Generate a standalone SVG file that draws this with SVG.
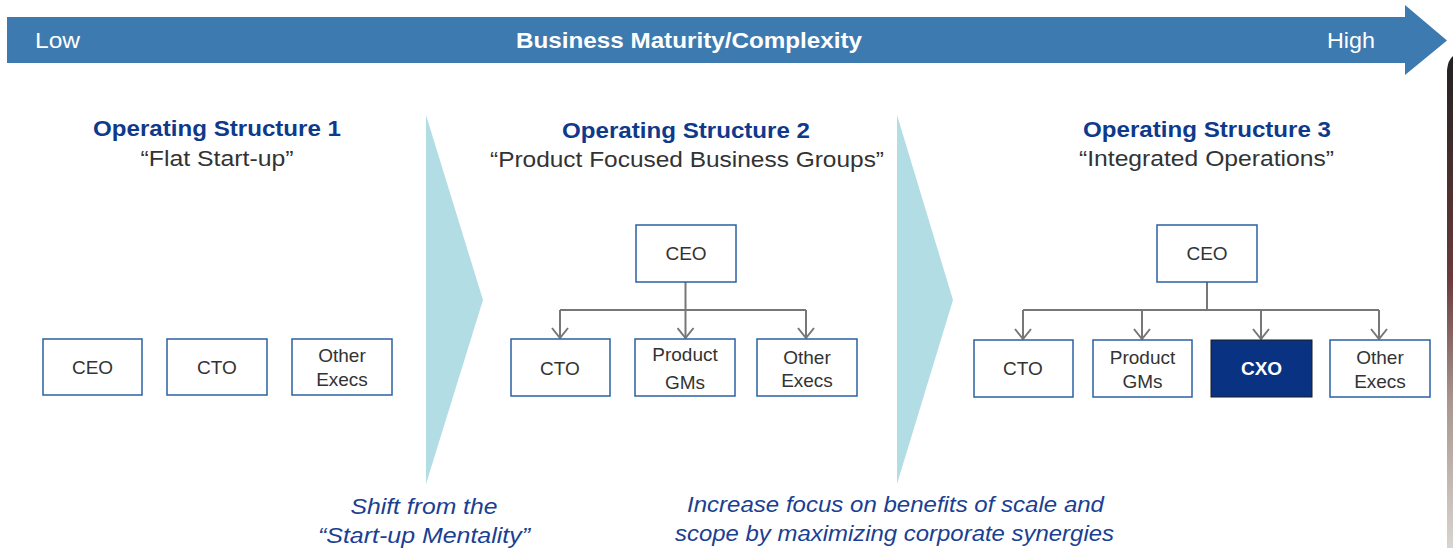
<svg xmlns="http://www.w3.org/2000/svg" width="1453" height="548" viewBox="0 0 1453 548">
<defs>
<style>
.box{fill:#fff;stroke:#2b60a3;stroke-width:1.5}
.bt{font-family:"Liberation Sans",Arial,sans-serif;font-size:19px;fill:#333;text-anchor:middle}
.title{font-family:"Liberation Sans",Arial,sans-serif;font-size:22px;font-weight:bold;fill:#0f3a8c;text-anchor:middle}
.sub{font-family:"Liberation Sans",Arial,sans-serif;font-size:22px;fill:#333;text-anchor:middle}
.note{font-family:"Liberation Sans",Arial,sans-serif;font-size:22px;font-style:italic;fill:#1b3f92;text-anchor:middle}
.bar{font-family:"Liberation Sans",Arial,sans-serif;font-size:22px;fill:#fff}
.conn{fill:none;stroke:#777;stroke-width:2}
.chev{fill:#b3dde5}
</style>
<marker id="ah" viewBox="0 0 12 18" refX="11" refY="9" markerWidth="12" markerHeight="18" markerUnits="userSpaceOnUse" orient="auto">
<path d="M1,1 L11,9 L1,17" fill="none" stroke="#777" stroke-width="2"/>
</marker>
<linearGradient id="edge" x1="0" y1="0" x2="0" y2="1">
<stop offset="0" stop-color="#222"/>
<stop offset="0.45" stop-color="#6a3a3a"/>
<stop offset="0.7" stop-color="#a89590"/>
<stop offset="1" stop-color="#d8d4d0"/>
</linearGradient>
</defs>
<rect width="1453" height="548" fill="#fff"/>
<path d="M1447,70 Q1448,60 1453,56 V548 H1447 Z" fill="url(#edge)"/>

<g id="maturity-arrow">
<path d="M7,17 H1405 V5 L1447,40.5 L1405,75 V63 H7 Z" fill="#3d7ab0"/>
<text class="bar" x="35" y="48" textLength="45" lengthAdjust="spacingAndGlyphs">Low</text>
<text class="bar" x="516" y="48" font-weight="bold" textLength="346" lengthAdjust="spacingAndGlyphs">Business Maturity/Complexity</text>
<text class="bar" x="1327" y="48" textLength="48" lengthAdjust="spacingAndGlyphs">High</text>
</g>

<g id="chevrons">
<path class="chev" d="M426,115 L483,300 L426,484 Z"/>
<path class="chev" d="M897,115 L953,300 L897,484 Z"/>
</g>

<g id="headers">
<text class="title" x="217" y="136" textLength="248" lengthAdjust="spacingAndGlyphs">Operating Structure 1</text>
<text class="sub" x="217" y="166" textLength="153" lengthAdjust="spacingAndGlyphs">“Flat Start-up”</text>
<text class="title" x="686" y="138" textLength="248" lengthAdjust="spacingAndGlyphs">Operating Structure 2</text>
<text class="sub" x="687" y="167" textLength="394" lengthAdjust="spacingAndGlyphs">“Product Focused Business Groups”</text>
<text class="title" x="1207" y="137" textLength="248" lengthAdjust="spacingAndGlyphs">Operating Structure 3</text>
<text class="sub" x="1206.5" y="166" textLength="255" lengthAdjust="spacingAndGlyphs">“Integrated Operations”</text>
</g>

<g id="connectors">
<path class="conn" d="M685.5,282 V310"/>
<path class="conn" d="M560,310 H806"/>
<path class="conn" d="M560,310 V338" marker-end="url(#ah)"/>
<path class="conn" d="M685.5,310 V338" marker-end="url(#ah)"/>
<path class="conn" d="M806,310 V338" marker-end="url(#ah)"/>
<path class="conn" d="M1207,282 V310"/>
<path class="conn" d="M1023,310 H1379"/>
<path class="conn" d="M1023,310 V339" marker-end="url(#ah)"/>
<path class="conn" d="M1142,310 V339" marker-end="url(#ah)"/>
<path class="conn" d="M1261,310 V339" marker-end="url(#ah)"/>
<path class="conn" d="M1379,310 V339" marker-end="url(#ah)"/>
</g>

<g id="s1-ceo"><rect class="box" x="43" y="339" width="99" height="56"/><text class="bt" x="92.5" y="374">CEO</text></g>
<g id="s1-cto"><rect class="box" x="167" y="339" width="100" height="56"/><text class="bt" x="217" y="374">CTO</text></g>
<g id="s1-other"><rect class="box" x="292" y="339" width="100" height="56"/><text class="bt" x="342" y="362">Other</text><text class="bt" x="342" y="386">Execs</text></g>

<g id="s2-ceo"><rect class="box" x="636" y="225" width="100" height="57"/><text class="bt" x="686" y="260">CEO</text></g>
<g id="s2-cto"><rect class="box" x="511" y="339" width="99" height="57"/><text class="bt" x="560" y="375">CTO</text></g>
<g id="s2-pgm"><rect class="box" x="635" y="339" width="100" height="57"/><text class="bt" x="685" y="361">Product</text><text class="bt" x="685" y="389">GMs</text></g>
<g id="s2-other"><rect class="box" x="757" y="339" width="100" height="57"/><text class="bt" x="807" y="364">Other</text><text class="bt" x="807" y="387">Execs</text></g>

<g id="s3-ceo"><rect class="box" x="1157" y="225" width="100" height="57"/><text class="bt" x="1207" y="260">CEO</text></g>
<g id="s3-cto"><rect class="box" x="974" y="340" width="99" height="57"/><text class="bt" x="1023" y="375">CTO</text></g>
<g id="s3-pgm"><rect class="box" x="1093" y="340" width="99" height="57"/><text class="bt" x="1142.5" y="364">Product</text><text class="bt" x="1142.5" y="388">GMs</text></g>
<g id="s3-cxo"><rect x="1211" y="340" width="101" height="57" fill="#0a3283" stroke="#1a1a1a" stroke-width="1"/><text class="bt" x="1261.5" y="375" style="fill:#fff;font-weight:bold">CXO</text></g>
<g id="s3-other"><rect class="box" x="1330" y="340" width="100" height="57"/><text class="bt" x="1380" y="364">Other</text><text class="bt" x="1380" y="388">Execs</text></g>

<g id="notes">
<text class="note" x="424" y="514" textLength="147" lengthAdjust="spacingAndGlyphs">Shift from the</text>
<text class="note" x="424" y="543" textLength="212" lengthAdjust="spacingAndGlyphs">“Start-up Mentality”</text>
<text class="note" x="895.5" y="512" textLength="417" lengthAdjust="spacingAndGlyphs">Increase focus on benefits of scale and</text>
<text class="note" x="894.5" y="541" textLength="439" lengthAdjust="spacingAndGlyphs">scope by maximizing corporate synergies</text>
</g>
</svg>
